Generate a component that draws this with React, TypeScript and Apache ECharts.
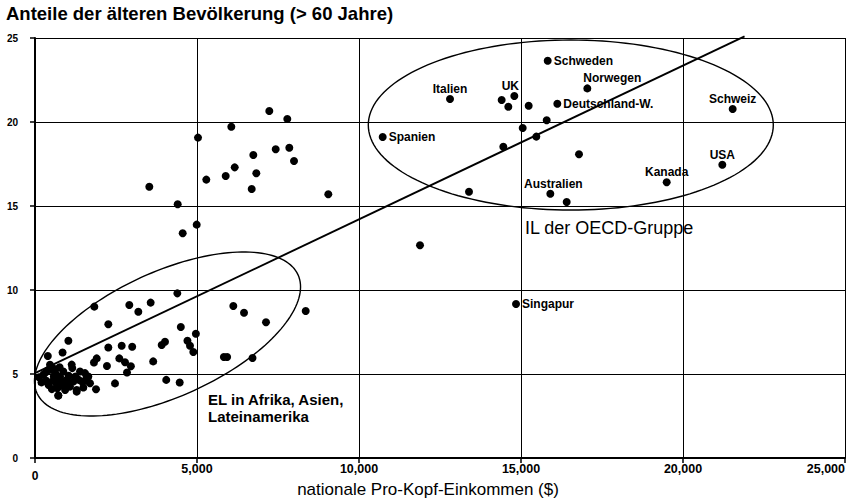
import { useEffect, useRef } from 'react';
import * as echarts from 'echarts';

// ---- data (x: per-capita income in $, y: share of population > 60 years in %) ----
const X_MIN = 0;
const X_MAX = 25000;
const X_STEP = 5000;
const Y_MIN = 0;
const Y_MAX = 25;
const Y_STEP = 5;

const titleText = 'Anteile der älteren Bevölkerung (> 60 Jahre)';
const xAxisTitle = 'nationale Pro-Kopf-Einkommen ($)';

// dense cluster of poorest developing countries
const elCluster: [number, number][] = [
  [120, 4.8], [250, 4.95], [309, 5.05], [350, 4.6], [420, 4.35], [463, 5.55], [470, 5.25],
  [520, 4.1], [566, 4.6], [580, 4.85], [620, 5.1], [669, 4.4], [690, 4.15], [720, 3.72],
  [772, 4.85], [790, 4.3], [874, 5.15], [900, 4.5], [930, 4.05], [977, 4.65], [1040, 4.9],
  [1080, 4.25], [1150, 5.35], [1183, 4.55], [1286, 4.05], [1350, 4.65], [1389, 5.15],
  [1492, 4.2], [1543, 5.05], [1646, 4.85], [1698, 4.45],
  [200, 4.5], [380, 5.2], [560, 5.35], [650, 4.75], [820, 4.6], [1000, 4.35], [1250, 4.85],
  [1450, 4.55], [1590, 4.6], [760, 5.4],
];

// other developing countries (Africa, Asia, Latin America)
const elPoints: [number, number][] = [
  [4393, 9.8], [1831, 9.01], [2911, 9.11], [3189, 8.71], [3570, 9.25], [6121, 9.05],
  [6451, 8.65], [8355, 8.75], [7130, 8.08], [2263, 7.96], [4500, 7.8], [4965, 7.4],
  [4705, 6.98], [4784, 6.68], [4887, 6.31], [4012, 6.92], [3911, 6.73], [1030, 6.98],
  [395, 6.07], [850, 6.28], [2263, 6.58], [2675, 6.68], [3000, 6.62], [1903, 5.93],
  [1820, 5.68], [2220, 5.48], [2603, 5.93], [2778, 5.7], [2960, 5.46], [2840, 5.09],
  [3647, 5.75], [5830, 6.01], [5930, 6.01], [6713, 5.95], [1132, 5.56], [4050, 4.65],
  [4465, 4.49], [2469, 4.44], [1883, 4.09], [1286, 3.95], [720, 3.72], [1595, 4.84],
];

// upper-left group (higher share of elderly, medium income)
const upperPoints: [number, number][] = [
  [7231, 20.65], [7787, 20.18], [6059, 19.72], [5031, 19.07], [7429, 18.38], [7849, 18.47],
  [6738, 18.04], [7994, 17.68], [6164, 17.3], [5886, 16.79], [6830, 16.95], [5287, 16.57],
  [6688, 16.01], [3528, 16.15], [9052, 15.7], [4404, 15.1], [4991, 13.89], [4559, 13.38],
];

// OECD countries without a label
const oecdOther: [number, number][] = [
  [14403, 21.31], [14609, 20.91], [15237, 20.97], [15793, 20.1], [15052, 19.64],
  [15473, 19.13], [14455, 18.53], [16790, 18.08], [13395, 15.85], [16410, 15.24],
  [11883, 12.66],
];

// named countries
const countryNames = [
  'Schweden', 'Norwegen', 'Italien', 'UK', 'Deutschland-W.', 'Schweiz',
  'Spanien', 'USA', 'Kanada', 'Australien', 'Singapur',
];
const countryIncome = [15824, 17047, 12809, 14794, 16121, 21533, 10731, 21214, 19496, 15905, 14846];
const countryElderly = [23.65, 22.0, 21.37, 21.55, 21.09, 20.77, 19.11, 17.46, 16.41, 15.73, 9.17];

// regression line end points
const trendLine: [number, number][] = [[0, 5.05], [21900, 25.1]];

// ellipses: centre x, centre y, first semi-axis (dx, dy), second semi-axis (dx, dy) in data units
const ellipseEL = [4090, 7.38, 4028, 3.524, 796, -3.381];
const ellipseOECD = [16537, 19.82, 6250, 0, 0, 5.06];

// group annotations anchored in data units
const annotationTexts = ['IL der OECD-Gruppe', 'EL in Afrika, Asien,\nLateinamerika'];
const annotationAnchors: [number, number][] = [[15123, 13.69], [5340, 3.96]];

// ---- presentation ----
const labelPlacement: Record<string, { position: string; offset?: [number, number] }> = {
  Schweden: { position: 'right' },
  Norwegen: { position: 'top', offset: [25, 0] },
  Italien: { position: 'top' },
  UK: { position: 'top', offset: [-4, 0] },
  'Deutschland-W.': { position: 'right' },
  Schweiz: { position: 'top' },
  Spanien: { position: 'right' },
  USA: { position: 'top' },
  Kanada: { position: 'top' },
  Australien: { position: 'top', offset: [3, 0] },
  Singapur: { position: 'right' },
};

const FONT = '"Liberation Sans", Arial, Helvetica, sans-serif';
const INK = '#000';

export default function App() {
  const ref = useRef<HTMLDivElement>(null);

  useEffect(() => {
    if (!ref.current) return;
    const chart = echarts.init(ref.current, undefined, { renderer: 'svg' });

    const dot = {
      symbol: 'circle',
      symbolSize: 8,
      itemStyle: { color: INK, opacity: 1 },
      silent: true,
    };

    const named = countryNames.map((name, i) => {
      const p = labelPlacement[name] || { position: 'right' };
      return {
        name,
        value: [countryIncome[i], countryElderly[i]],
        label: {
          show: true,
          formatter: name,
          position: p.position,
          distance: p.position === 'top' ? 0 : 2,
          offset: p.offset || [0, 0],
          color: INK,
          fontSize: 12,
          fontWeight: 'bold',
          fontFamily: FONT,
        },
      };
    });

    chart.setOption({
      animation: false,
      backgroundColor: '#fff',
      textStyle: { fontFamily: FONT, color: INK },
      title: {
        text: titleText,
        left: 6,
        top: 4,
        padding: 0,
        textStyle: { fontSize: 18.5, fontWeight: 'bold', color: INK, fontFamily: FONT },
      },
      grid: {
        left: 35,
        right: 5,
        top: 38,
        bottom: 41,
        containLabel: false,
        outerBoundsMode: 'none',
      },
      xAxis: {
        type: 'value',
        min: X_MIN,
        max: X_MAX,
        interval: X_STEP,
        name: xAxisTitle,
        nameLocation: 'middle',
        nameGap: 23,
        nameMoveOverlap: false,
        nameTextStyle: { fontSize: 17, color: INK, fontFamily: FONT, padding: [0, 24, 0, 0] },
        axisLine: { show: true, onZero: false, lineStyle: { color: INK, width: 2 } },
        axisTick: { show: true, length: 5, lineStyle: { color: INK, width: 1.5 } },
        splitLine: { show: true, lineStyle: { color: INK, width: 1 } },
        axisLabel: {
          color: INK,
          fontSize: 12.5,
          fontWeight: 'bold',
          fontFamily: FONT,
          margin: 4,
          alignMaxLabel: 'right',
          formatter: (v: number) => (v === 0 ? '{z|0}' : v.toLocaleString('en-US')),
          rich: { z: { fontSize: 12, fontWeight: 'bold', color: INK, padding: [8, 0, 0, 0] } },
        },
      },
      yAxis: {
        type: 'value',
        min: Y_MIN,
        max: Y_MAX,
        interval: Y_STEP,
        axisLine: { show: true, onZero: false, lineStyle: { color: INK, width: 2 } },
        axisTick: { show: true, length: 5, lineStyle: { color: INK, width: 1.5 } },
        splitLine: { show: true, lineStyle: { color: INK, width: 1 } },
        axisLabel: { color: INK, fontSize: 10, fontWeight: 'bold', fontFamily: FONT, margin: 17 },
      },
      series: [
        {
          type: 'custom',
          silent: true,
          clip: false,
          dimensions: ['cx', 'cy', 'ux', 'uy', 'vx', 'vy'],
          encode: { x: 0, y: 1 },
          data: [ellipseEL, ellipseOECD],
          renderItem: (_params: any, api: any) => {
            const cx = api.value(0);
            const cy = api.value(1);
            const ux = api.value(2);
            const uy = api.value(3);
            const vx = api.value(4);
            const vy = api.value(5);
            const pts: number[][] = [];
            const n = 160;
            for (let i = 0; i < n; i++) {
              const t = (i / n) * Math.PI * 2;
              pts.push(
                api.coord([
                  cx + ux * Math.cos(t) + vx * Math.sin(t),
                  cy + uy * Math.cos(t) + vy * Math.sin(t),
                ])
              );
            }
            return {
              type: 'polygon',
              shape: { points: pts },
              style: { fill: 'none', stroke: INK, lineWidth: 1.4 },
            };
          },
        },
        {
          type: 'line',
          data: trendLine,
          symbol: 'none',
          clip: false,
          silent: true,
          lineStyle: { color: INK, width: 1.9 },
        },
        { type: 'scatter', data: elCluster, ...dot },
        { type: 'scatter', data: elPoints, ...dot },
        { type: 'scatter', data: upperPoints, ...dot },
        { type: 'scatter', data: oecdOther, ...dot },
        { type: 'scatter', data: named, ...dot },
      ],
    });

    const graphics = annotationTexts.map((text, i) => {
      const [px, py] = chart.convertToPixel({ gridIndex: 0 }, annotationAnchors[i]) as number[];
      const isOECD = i === 0;
      return {
        type: 'text',
        x: px,
        y: py,
        silent: true,
        style: {
          text,
          fill: INK,
          font: isOECD ? `normal 18px ${FONT}` : `bold 15px ${FONT}`,
          lineHeight: 17,
          textAlign: 'left',
          textVerticalAlign: isOECD ? 'middle' : 'top',
        },
      };
    });
    chart.setOption({ graphic: graphics });

    return () => chart.dispose();
  }, []);

  return (
    <div
      ref={ref}
      style={{ position: 'fixed', left: 0, top: 0, width: 850, height: 499, background: '#fff' }}
    />
  );
}
